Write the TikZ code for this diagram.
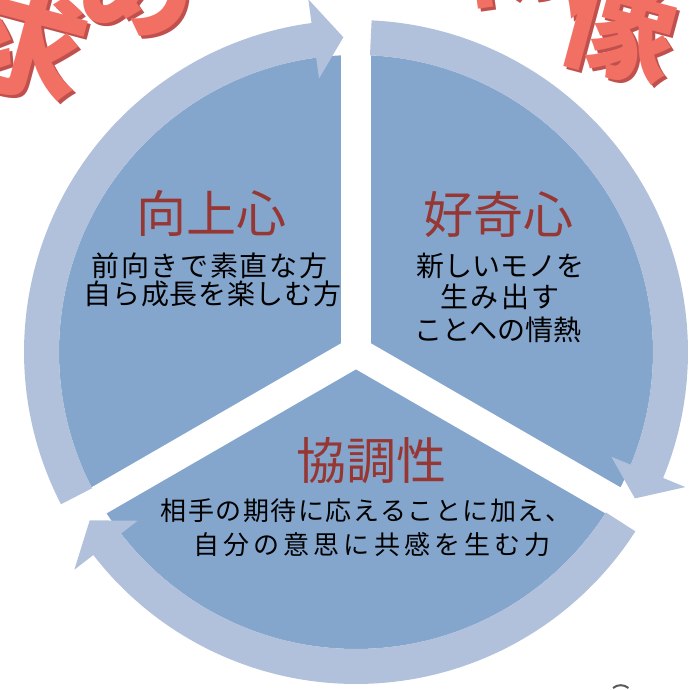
\documentclass[tikz,border=0pt]{standalone}
\usepackage{fontspec}
\setmainfont{Noto Sans CJK JP}
\usetikzlibrary{calc}
\definecolor{sect}{RGB}{132,166,205}
\definecolor{ringc}{RGB}{177,193,220}
\definecolor{titred}{RGB}{150,55,52}
\definecolor{salmon}{RGB}{241,112,99}
\definecolor{salshadow}{RGB}{192,80,77}
\newcommand\ringarrow[3]{%
  \fill[ringc] ($(C)+(#1:297pt)$) arc[start angle=#1, end angle=#2, radius=297pt]
    -- ($(C)+(#2:276pt)$) -- ($(C)+(#3:315pt)$) -- ($(C)+(#2:356pt)$) -- ($(C)+(#2:332pt)$)
    arc[start angle=#2, end angle=#1, radius=332pt] -- cycle;}
\begin{document}
\begin{tikzpicture}[x=1pt,y=1pt,
  title/.style={text=titred, font=\fontsize{50}{55}\selectfont, inner sep=0pt},
  body/.style={text=black, inner sep=0pt},
  big/.style={font=\fontsize{115}{115}\selectfont\bfseries, inner sep=0pt}]
\useasboundingbox (0,0) rectangle (694,689);
\clip (0,0) rectangle (694,689);
\coordinate (C) at (356,337);
% big arched heading (mostly outside the picture)
\foreach \ch/\x/\y/\r [count=\i] in {求/28/45/-15, め/137/-15/-8, る/265/-70/0, 人/385/-75/0, 物/505/-50/8, 像/620/25/-15}{
  \node[big, text=salshadow, rotate=\r] (bs\i) at (\x+3, 689-\y-3) {\ch};
  \node[big, text=salmon, rotate=\r] (bf\i) at (\x, 689-\y) {\ch};
}
% disc with gaps
\fill[sect] (C) circle[radius=297pt];
\foreach \a in {90,210,330} \draw[white, line width=30pt] (C) -- ($(C)+(\a:305pt)$);
% ring arrows
\ringarrow{207.3}{97.7}{92.3}
\ringarrow{87.3}{-22.3}{-27.7}
\ringarrow{-32.7}{-142.3}{-147.7}
% texts
\node[title] (t1) at (211,476) {向上心};
\node[body, font=\fontsize{28}{30}\selectfont\addfontfeatures{LetterSpace=6}] (b1a) at (209.5,423) {前向きで素直な方};
\node[body, font=\fontsize{28}{30}\selectfont\addfontfeatures{LetterSpace=2.5}] (b1b) at (212.5,395.5) {自ら成長を楽しむ方};
\node[title] (t2) at (498,474) {好奇心};
\node[body, font=\fontsize{28}{30}\selectfont] (b2a) at (500,423) {新しいモノを};
\node[body, font=\fontsize{28}{30}\selectfont\addfontfeatures{LetterSpace=8}] (b2b) at (500,392) {生み出す};
\node[body, font=\fontsize{28}{30}\selectfont] (b2c) at (498,359) {ことへの情熱};
\node[title] (t3) at (371,228) {協調性};
\node[body, font=\fontsize{26}{30}\selectfont\addfontfeatures{LetterSpace=6}] (b3a) at (366,178) {相手の期待に応えることに加え、};
\node[body, font=\fontsize{26}{30}\selectfont\addfontfeatures{LetterSpace=16}] (b3b) at (372,144) {自分の意思に共感を生む力};
% small mark at bottom edge
\draw[black!65, line width=2pt] (613,1) arc[start angle=130, end angle=50, radius=12pt];
\end{tikzpicture}
\end{document}
